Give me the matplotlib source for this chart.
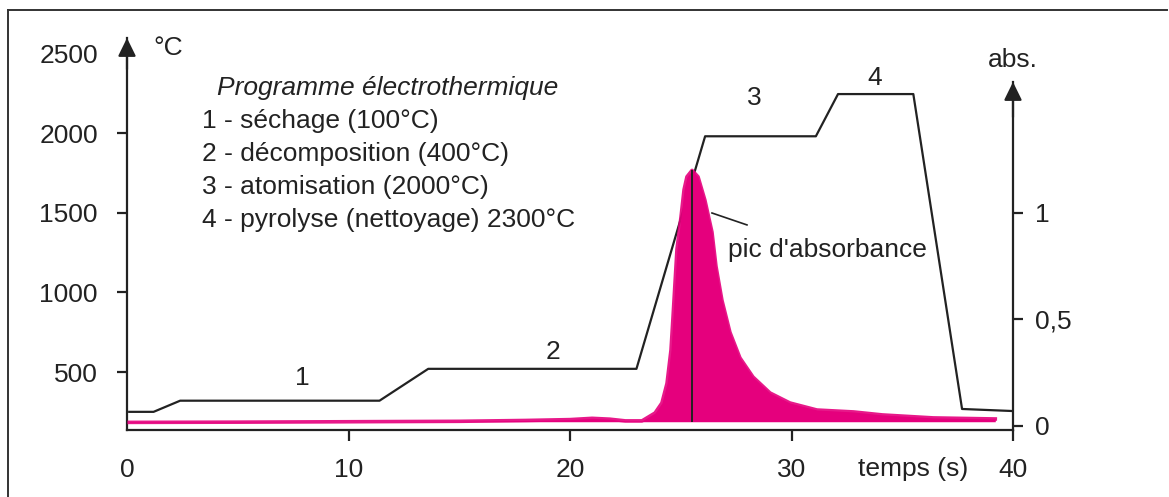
import matplotlib
matplotlib.use("Agg")
import matplotlib.pyplot as plt
import numpy as np
from matplotlib.lines import Line2D

plt.rcParams['font.family'] = ['Liberation Sans', 'DejaVu Sans']

W, H = 1169, 497
INK = '#222222'
PINK = '#E5007D'

# programme de température (temps en s, température en °C)
t_temp = [0.1, 1.2, 2.4, 11.4, 13.6, 23.0, 26.1, 31.1, 32.1, 35.5, 37.7, 40.0]
temp = [250, 250, 320, 320, 520, 520, 1980, 1980, 2245, 2245, 268, 255]

# signal d'absorbance
t_abs = [0.1, 5.0, 10.0, 15.0, 18.0, 20.0, 21.0, 21.8, 22.5, 23.25, 23.84,
         24.15, 24.38, 24.56, 24.65, 24.74, 24.83, 25.01, 25.15, 25.28, 25.51,
         25.78, 26.09, 26.41, 26.59, 26.86, 27.22, 27.67, 28.26, 29.03, 29.93,
         31.15, 32.8, 34.1, 36.4, 39.2]
absb = [0.017, 0.018, 0.02, 0.022, 0.026, 0.03, 0.036, 0.032, 0.024, 0.024, 0.061,
        0.108, 0.20, 0.357, 0.51, 0.67, 0.83, 0.98, 1.11, 1.17, 1.20,
        1.17, 1.06, 0.91, 0.75, 0.59, 0.44, 0.32, 0.23, 0.155, 0.108,
        0.075, 0.066, 0.052, 0.038, 0.033]
abs_base = 0.02

xticks = [0, 10, 20, 30, 40]
yticks_T = [500, 1000, 1500, 2000, 2500]
yticks_A = [0, 0.5, 1]
yticklabels_A = ['0', '0,5', '1']

legend_title = "Programme électrothermique"
legend_lines = ["1 - séchage (100°C)",
                "2 - décomposition (400°C)",
                "3 - atomisation (2000°C)",
                "4 - pyrolyse (nettoyage) 2300°C"]


def fpx(x, y):
    return x / W, 1 - y / H


fig = plt.figure(figsize=(W / 100, H / 100), dpi=100)
ax = fig.add_axes([127 / W, (H - 430) / H, (1013 - 127) / W, (430 - 38) / H])
ax.set_xlim(0, 40)
ax.set_ylim(136, 2597)
ax2 = ax.twinx()
ax2.set_ylim(-0.0188, 1.8216)

for a in (ax, ax2):
    for s in a.spines.values():
        s.set_visible(False)
    a.patch.set_visible(False)

ax.spines['left'].set_visible(True)
ax.spines['bottom'].set_visible(True)
ax.spines['left'].set_color(INK)
ax.spines['bottom'].set_color(INK)
ax.spines['left'].set_linewidth(1.6)
ax.spines['bottom'].set_linewidth(1.6)
ax2.spines['right'].set_visible(True)
ax2.spines['right'].set_color(INK)
ax2.spines['right'].set_linewidth(1.6)
ax2.spines['right'].set_bounds(-0.0188, 1.615)

# courbes
ax2.fill_between(t_abs, abs_base, absb, color=PINK, lw=0)
ax2.plot(t_abs, absb, color=PINK, lw=2.6, alpha=0.9, solid_joinstyle='round')
ipk = int(np.argmax(absb))
ax2.vlines(t_abs[ipk], abs_base, absb[ipk], color=INK, lw=1.4)
ax.plot(t_temp, temp, color=INK, lw=1.6, zorder=5)

# ticks
ax.set_xticks(xticks)
ax.tick_params(axis='x', direction='out', length=8, width=1.6, color=INK,
               pad=12, labelsize=19, labelcolor=INK)
ax.xaxis.get_major_ticks()[0].tick1line.set_visible(False)
ax.set_yticks(yticks_T)
ax.tick_params(axis='y', direction='out', length=7, width=1.6, color=INK,
               pad=14, labelsize=19, labelcolor=INK)
ax.yaxis.get_major_ticks()[-1].tick1line.set_visible(False)
ax2.set_yticks(yticks_A)
ax2.set_yticklabels(yticklabels_A)
ax2.tick_params(axis='y', direction='out', length=7, width=1.6, color=INK,
                pad=9, labelsize=19, labelcolor=INK)

# flèches des axes
head = dict(arrowstyle='-|>,head_length=0.55,head_width=0.27', color=INK,
            lw=1.6, mutation_scale=20, shrinkA=0, shrinkB=0)
ax.annotate('', xy=(0, 2597), xytext=(0, 2400), arrowprops=head, annotation_clip=False)
ax2.annotate('', xy=(40, 1.615), xytext=(40, 1.45), arrowprops=head, annotation_clip=False)

# textes
fs = 19
fig.text(*fpx(153, 55), "°C", fontsize=fs, color=INK, va='baseline')
fig.text(*fpx(1013, 67), "abs.", fontsize=fs, color=INK, va='baseline', ha='center')
fig.text(*fpx(913, 476), "temps (s)", fontsize=fs, color=INK, va='baseline', ha='center')
fig.text(*fpx(217, 95), legend_title, fontsize=fs, color=INK, va='baseline', style='italic')
for k, line in enumerate(legend_lines):
    fig.text(*fpx(202, 128 + 33 * k), line, fontsize=fs, color=INK, va='baseline')
for lab, (x, y) in zip("1234", [(302, 385), (553, 359), (754, 105), (875, 85)]):
    fig.text(*fpx(x, y), lab, fontsize=fs, color=INK, va='baseline', ha='center')
fig.text(*fpx(728, 257), "pic d'absorbance", fontsize=fs, color=INK, va='baseline')
ax2.plot([26.41, 27.99], [1.0, 0.944], color=INK, lw=1.2)

# cadre
fig.add_artist(Line2D([8 / W, 1167 / W], [1 - 10 / H] * 2, transform=fig.transFigure,
                      color='#333333', lw=1.4))
fig.add_artist(Line2D([8 / W, 8 / W], [0, 1 - 10 / H], transform=fig.transFigure,
                      color='#333333', lw=1.4))

fig.savefig("out.png", dpi=100, facecolor='white')
